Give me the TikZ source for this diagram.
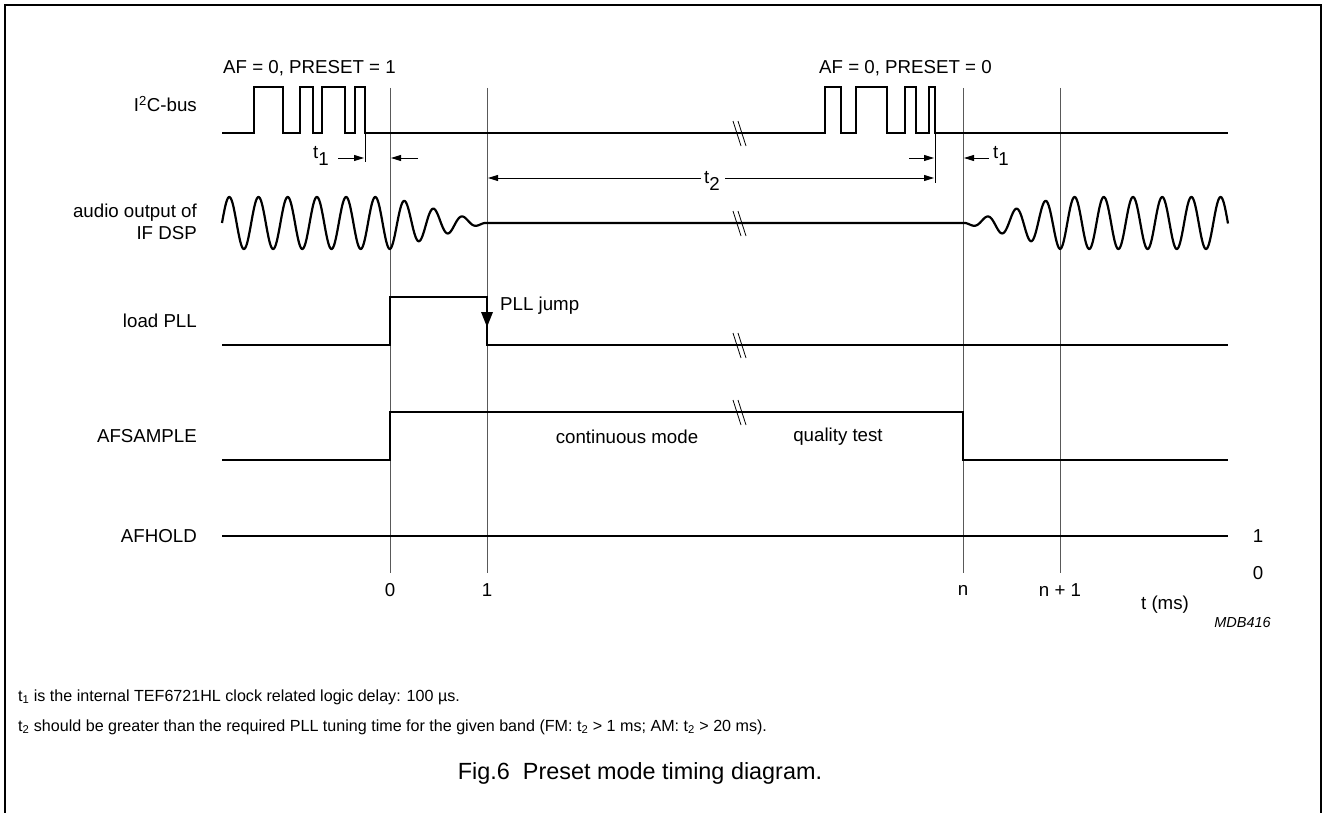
\documentclass[tikz,border=0pt]{standalone}
\usepackage{fontspec}
\setmainfont{Liberation Sans}
\usetikzlibrary{arrows.meta}
\newcommand{\sub}[1]{\raisebox{-0.35em}{#1}}
\begin{document}
\begin{tikzpicture}[x=1pt,y=-1pt,
  sig/.style={line width=2.4pt, line join=miter},
  wave/.style={line width=2.2pt, line join=round},
  tline/.style={line width=1pt, black!65},
  thin/.style={line width=0.9pt},
  brk/.style={line width=0.8pt},
  arr/.style={-{Triangle[length=10pt,width=6pt]}, line width=0.9pt},
  lbl/.style={font=\fontsize{18.7}{22}\selectfont, inner sep=0pt},
  note/.style={font=\fontsize{16.1}{20}\selectfont, inner sep=0pt, anchor=west},
]
\useasboundingbox (0,0) rectangle (1326,813);
% frame
\draw[line width=2pt] (5,813) -- (5,5) -- (1321,5) -- (1321,813);

% time lines
\coordinate (T0top) at (390,88);  \coordinate (T0bot) at (390,573);
\coordinate (T1top) at (487,88);  \coordinate (T1bot) at (487,573);
\coordinate (Tntop) at (963,88);  \coordinate (Tnbot) at (963,573);
\coordinate (Tn1top) at (1060,88); \coordinate (Tn1bot) at (1060,573);
\draw[tline] (T0top) -- (T0bot);
\draw[tline] (T1top) -- (T1bot);
\draw[tline] (Tntop) -- (Tnbot);
\draw[tline] (Tn1top) -- (Tn1bot);
\node[lbl] (l0) at (390,590) {0};
\node[lbl] (l1) at (487,590) {1};
\node[lbl] (ln) at (963,590) {n};
\node[lbl] (ln1) at (1060,590) {n + 1};
\node[lbl] (lt) at (1165,605) {t (ms)};
\node[lbl, font=\fontsize{14.5}{16}\selectfont\itshape, anchor=east] (mdb) at (1271,623) {MDB416};

% signal labels
\node[lbl, anchor=east] (nI2C) at (197,104) {I\textsuperscript{2}C-bus};
\node[lbl, anchor=east, align=right] (naudio) at (197,222) {audio output of\\IF DSP};
\node[lbl, anchor=east] (npll) at (197,321) {load PLL};
\node[lbl, anchor=east] (nafs) at (197,436) {AFSAMPLE};
\node[lbl, anchor=east] (nafh) at (197,536) {AFHOLD};

% top texts
\node[lbl, anchor=west] (af1) at (223,68) {AF = 0, PRESET = 1};
\node[lbl, anchor=west] (af0) at (819,68) {AF = 0, PRESET = 0};

% I2C bus
\draw[sig] (222,133) -- (254,133) -- (254,87) -- (283,87) -- (283,133) -- (300,133) -- (300,87) -- (313,87) -- (313,133)
  -- (322,133) -- (322,87) -- (345,87) -- (345,133) -- (355,133) -- (355,87) -- (365,87) -- (365,133)
  -- (825,133) -- (825,87) -- (841,87) -- (841,133) -- (856,133) -- (856,87) -- (887,87) -- (887,133)
  -- (905,133) -- (905,87) -- (916,87) -- (916,133) -- (929,133) -- (929,87) -- (935,87) -- (935,133) -- (1228,133);

% t1 / t2 markers
\coordinate (m1top) at (365,133); \coordinate (m1bot) at (365,162);
\coordinate (m2top) at (935,133); \coordinate (m2bot) at (935,183);
\draw[thin] (m1top) -- (m1bot);
\draw[thin] (m2top) -- (m2bot);
\node[lbl] (t1a) at (321,156) {t\sub{1}};
\draw[arr] (338,158) -- (364,158);
\draw[arr] (418,158) -- (391,158);
\draw[arr] (909,158) -- (934,158);
\draw[arr] (989,158) -- (964,158);
\node[lbl] (t1b) at (1001,156) {t\sub{1}};
\node[lbl] (t2) at (712,181) {t\sub{2}};
\coordinate (t2l) at (701,178); \coordinate (t2r) at (725,178);
\coordinate (t2a) at (488,178); \coordinate (t2b) at (934,178);
\draw[arr] (t2l) -- (t2a);
\draw[arr] (t2r) -- (t2b);

% audio output
\draw[wave] plot[domain=222:390, samples=300] (\x, {223 - 26*sin(12.3288*(\x-222))})
  -- plot[domain=390:487, samples=200] (\x, {223 - 26*(487-\x)/97*sin(12.3288*(\x-222))})
  -- (963,223)
  -- plot[domain=963:1060, samples=200] (\x, {223 - 26*(\x-963)/97*sin(12.3288*(\x-1060) - 90)})
  -- plot[domain=1060:1228, samples=300] (\x, {223 - 26*sin(12.3288*(\x-1060) - 90)});

% load PLL
\draw[sig] (222,345) -- (390,345) -- (390,297) -- (487,297) -- (487,345) -- (1228,345);
\fill (481,312) -- (493,312) -- (487,327) -- cycle;
\node[lbl, anchor=west] (jump) at (500,306) {PLL jump};

% AFSAMPLE
\draw[sig] (222,460) -- (390,460) -- (390,412) -- (963,412) -- (963,460) -- (1228,460);
\node[lbl] (cont) at (627,437) {continuous mode};
\node[lbl] (qual) at (838,437) {quality test};

% AFHOLD
\draw[sig] (222,536) -- (1228,536);
\node[lbl] (one) at (1258,536) {1};
\node[lbl] (zero) at (1258,573) {0};

% break marks
\foreach \yy in {133,223,345,412}{
  \draw[brk] (733,\yy-12) -- (741,\yy+13);
  \draw[brk] (738,\yy-12) -- (746,\yy+13);
}

% notes
\node[note] (n1) at (18,697) {t\textsubscript{1} is the internal TEF6721HL clock related logic delay: 100 µs.};
\node[note] (n2) at (18,727) {t\textsubscript{2} should be greater than the required PLL tuning time for the given band (FM: t\textsubscript{2} > 1 ms; AM: t\textsubscript{2} > 20 ms).};
\node[lbl, font=\fontsize{23.4}{27}\selectfont] (cap) at (640,773) {Fig.6\ \ Preset mode timing diagram.};
\end{tikzpicture}
\end{document}
